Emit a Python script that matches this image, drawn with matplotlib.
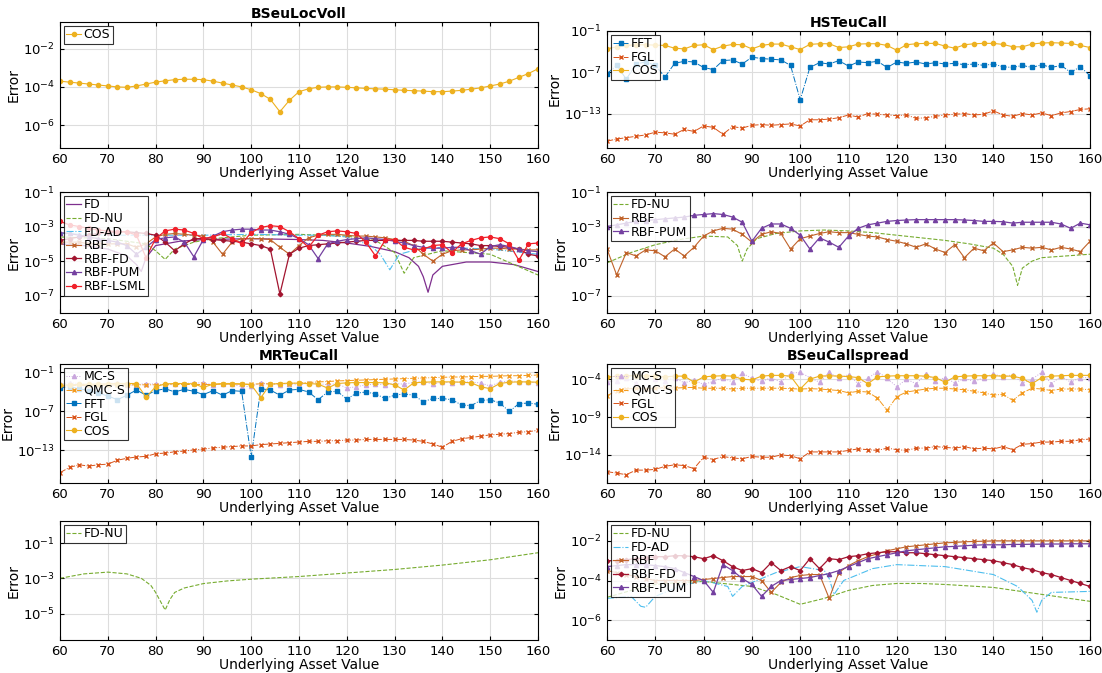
import numpy as np
import matplotlib
matplotlib.use("Agg")
import matplotlib.pyplot as plt
from matplotlib.ticker import FixedLocator, LogFormatterMathtext, NullLocator

X = np.arange(60, 161, 2)

# ---- data (log10 of error) ----
A_COS = [-3.70,-3.75,-3.8,-3.85,-3.9,-3.95,-4.0,-4.02,-3.95,-3.85,-3.75,-3.68,-3.62,-3.6,-3.6,-3.62,-3.7,-3.8,-3.9,-4.0,-4.15,-4.35,-4.65,-5.3,-4.7,-4.25,-4.1,-4.02,-4.0,-4.0,-4.02,-4.05,-4.08,-4.1,-4.12,-4.15,-4.18,-4.2,-4.22,-4.25,-4.25,-4.22,-4.18,-4.12,-4.05,-3.95,-3.85,-3.7,-3.5,-3.3,-3.05]

B_FFT = [-7.2,-6.0,-8.0,-5.8,-5.5,-6.0,-7.7,-5.7,-5.4,-5.5,-6.3,-6.6,-5.3,-5.2,-5.8,-4.8,-5.0,-5.1,-5.2,-6.0,-11.0,-6.3,-5.6,-5.8,-5.3,-6.1,-5.5,-5.6,-5.4,-6.3,-5.5,-5.7,-5.5,-5.8,-5.6,-5.8,-5.7,-5.9,-5.8,-6.0,-5.8,-6.2,-6.3,-6.0,-6.3,-5.9,-6.3,-6.0,-7.0,-6.2,-7.5]
B_FGL = [-17.0,-16.7,-16.5,-16.3,-16.1,-15.7,-15.8,-16.0,-15.3,-15.6,-14.8,-15.0,-16.0,-14.9,-15.1,-14.7,-14.6,-14.7,-14.6,-14.5,-14.8,-13.9,-13.9,-13.8,-13.6,-13.2,-13.5,-13.0,-13.1,-13.2,-13.3,-13.2,-13.7,-13.6,-13.4,-13.2,-13.1,-13.0,-13.2,-13.1,-12.6,-13.2,-13.4,-13.0,-13.2,-12.9,-13.3,-12.9,-12.7,-12.4,-12.3]
B_COS = [-3.6,-3.3,-3.1,-3.0,-3.0,-3.05,-3.1,-3.5,-3.6,-3.1,-3.0,-3.7,-3.2,-2.95,-3.0,-3.6,-3.1,-2.9,-2.9,-3.3,-3.7,-2.95,-2.85,-2.85,-3.4,-3.3,-2.9,-2.85,-2.85,-3.1,-3.8,-3.0,-2.85,-2.8,-2.8,-3.2,-3.5,-3.0,-2.85,-2.8,-2.8,-2.95,-3.3,-3.3,-2.9,-2.75,-2.7,-2.75,-2.8,-3.1,-3.4]

C_FD_x = [60,65,70,74,76,77,78,80,85,90,100,110,115,120,125,130,133,135,136,137,138,140,145,150,155,160]
C_FD = [-4.0,-4.1,-4.3,-4.7,-5.2,-5.6,-4.8,-4.1,-3.85,-3.75,-3.7,-3.75,-3.8,-3.95,-4.15,-4.45,-4.8,-5.3,-5.9,-6.8,-5.8,-5.3,-5.05,-5.05,-5.2,-5.6]
C_FDNU_x = [60,70,78,80,82,84,88,92,100,110,120,126,130,132,134,140,150,160]
C_FDNU = [-3.6,-3.7,-4.0,-4.4,-4.9,-4.3,-3.9,-3.7,-3.5,-3.45,-3.55,-3.8,-4.5,-5.7,-4.8,-4.4,-4.6,-5.8]
C_FDAD_x = [60,70,80,90,100,110,115,120,125,127,129,131,135,140,150,160]
C_FDAD = [-3.4,-3.5,-3.5,-3.5,-3.45,-3.5,-3.5,-3.6,-4.1,-4.6,-5.5,-4.6,-4.3,-4.2,-4.3,-4.6]
C_RBF = [-3.9,-3.9,-3.9,-4.0,-4.0,-4.0,-4.0,-4.0,-4.2,-4.0,-3.6,-3.45,-3.4,-3.45,-3.5,-3.55,-3.9,-4.6,-3.9,-3.7,-3.7,-3.7,-3.75,-4.2,-4.6,-4.1,-3.65,-3.5,-3.45,-3.45,-3.5,-3.55,-3.55,-3.6,-3.65,-3.75,-3.85,-4.1,-4.6,-5.0,-4.6,-4.4,-4.35,-4.35,-4.3,-4.25,-4.25,-4.3,-4.3,-4.35,-4.35]
C_RBFFD = [-3.8,-3.7,-3.6,-3.5,-3.4,-3.35,-3.3,-3.3,-3.35,-3.4,-3.5,-3.9,-4.4,-4.0,-3.7,-3.7,-3.75,-3.8,-3.85,-3.9,-4.0,-4.1,-4.3,-6.9,-4.6,-4.25,-4.1,-4.05,-4.0,-3.95,-3.9,-3.85,-3.8,-3.8,-3.8,-3.8,-3.8,-3.8,-3.85,-3.85,-3.85,-3.9,-3.95,-4.0,-4.1,-4.1,-4.15,-4.2,-4.3,-4.6,-4.7]
C_PUM = [-3.35,-3.4,-3.5,-3.6,-3.7,-3.8,-3.9,-4.1,-4.6,-4.2,-3.75,-3.65,-3.6,-3.9,-4.75,-3.75,-3.55,-3.3,-3.2,-3.15,-3.15,-3.2,-3.2,-3.3,-3.45,-3.7,-4.05,-4.85,-4.0,-3.85,-3.75,-3.7,-3.65,-3.7,-3.75,-3.85,-3.95,-4.1,-4.2,-4.25,-4.25,-4.2,-4.2,-4.4,-4.6,-4.15,-4.05,-4.15,-4.3,-4.4,-4.45]
C_LSML = [-2.7,-2.9,-3.0,-3.1,-3.2,-3.25,-3.3,-3.3,-3.5,-4.8,-3.7,-3.25,-3.15,-3.2,-3.4,-3.7,-3.6,-3.4,-3.7,-4.0,-3.35,-3.05,-2.95,-3.0,-3.3,-3.7,-4.2,-3.5,-3.3,-3.25,-3.3,-3.4,-3.9,-4.7,-3.8,-3.75,-4.2,-4.35,-4.3,-4.1,-4.05,-4.5,-4.0,-3.8,-3.65,-3.6,-3.7,-4.0,-4.95,-4.0,-3.95]

D_FDNU_x = [60,65,70,75,80,85,87,88,89,91,95,100,105,110,115,120,125,130,135,140,142,144,145,146,148,150,155,160]
D_FDNU = [-5.1,-4.5,-4.05,-3.75,-3.55,-3.6,-4.1,-5.0,-4.3,-3.7,-3.4,-3.25,-3.2,-3.25,-3.35,-3.5,-3.65,-3.8,-4.0,-4.25,-4.6,-5.3,-6.4,-5.4,-5.0,-4.8,-4.7,-4.6]
D_RBF = [-4.3,-5.8,-4.5,-4.7,-4.35,-4.4,-4.75,-4.3,-4.7,-4.2,-3.55,-3.25,-3.1,-3.15,-3.45,-3.9,-3.45,-3.3,-3.4,-4.3,-3.7,-3.55,-3.4,-3.3,-3.35,-3.35,-3.45,-3.55,-3.6,-3.75,-3.85,-4.0,-4.2,-4.0,-4.3,-4.5,-4.05,-4.8,-4.25,-4.4,-3.95,-4.45,-4.35,-4.2,-4.25,-4.2,-4.35,-4.2,-4.3,-4.45,-3.85]
D_PUM = [-3.0,-2.9,-2.8,-2.7,-2.65,-2.6,-2.55,-2.5,-2.45,-2.35,-2.3,-2.25,-2.3,-2.45,-2.75,-3.85,-3.1,-2.85,-2.85,-3.1,-3.5,-4.3,-3.65,-3.9,-4.2,-3.55,-3.1,-2.9,-2.8,-2.7,-2.65,-2.62,-2.6,-2.6,-2.6,-2.6,-2.6,-2.62,-2.65,-2.7,-2.7,-2.72,-2.8,-2.75,-2.75,-2.75,-2.75,-2.85,-3.1,-2.8,-2.9]

E_MCS = [-2.8,-2.6,-2.7,-2.9,-2.8,-2.7,-2.6,-3.0,-2.9,-2.7,-2.8,-2.9,-2.8,-2.7,-2.6,-2.6,-2.9,-2.7,-2.8,-3.2,-3.1,-2.6,-2.8,-2.9,-2.7,-3.0,-2.6,-2.7,-2.9,-2.7,-3.4,-3.2,-2.9,-2.8,-2.9,-2.7,-2.8,-2.5,-2.4,-2.8,-2.5,-2.6,-2.4,-2.5,-2.6,-3.1,-2.5,-2.3,-2.4,-2.5,-2.6]
E_QMCS = [-3.2,-3.0,-3.0,-3.0,-2.95,-2.95,-2.9,-2.9,-2.9,-2.9,-2.9,-2.9,-2.85,-2.85,-2.85,-2.85,-2.85,-2.8,-2.8,-2.8,-2.8,-2.75,-2.75,-2.7,-2.7,-2.6,-2.55,-2.45,-2.4,-2.3,-2.25,-2.2,-2.15,-2.1,-2.05,-2.0,-1.95,-1.9,-1.85,-1.8,-1.75,-1.7,-1.7,-1.65,-1.6,-1.6,-1.55,-1.5,-1.5,-1.45,-1.4]
E_FFT = [-3.4,-3.2,-3.5,-3.8,-4.2,-4.6,-5.2,-4.5,-3.7,-4.5,-3.8,-3.5,-4.0,-3.6,-3.9,-4.4,-3.8,-4.5,-3.8,-3.9,-14.0,-3.5,-3.7,-4.5,-3.7,-3.6,-4.0,-5.2,-4.0,-3.9,-5.1,-4.2,-4.0,-4.3,-5.0,-4.5,-4.3,-4.5,-5.5,-5.0,-5.0,-5.2,-6.0,-6.1,-5.3,-5.2,-5.7,-7.0,-5.8,-5.7,-5.9]
E_FGL = [-16.4,-15.6,-15.2,-15.4,-15.2,-15.1,-14.5,-14.2,-14.0,-13.9,-13.5,-13.4,-13.2,-13.1,-12.9,-12.8,-12.6,-12.5,-12.4,-12.3,-12.3,-12.1,-12.0,-11.9,-11.8,-11.7,-11.6,-11.6,-11.5,-11.5,-11.4,-11.4,-11.3,-11.3,-11.3,-11.3,-11.3,-11.4,-11.6,-12.0,-12.5,-11.6,-11.2,-11.0,-10.8,-10.6,-10.5,-10.4,-10.2,-10.1,-9.9]
E_COS = [-3.0,-2.9,-2.85,-2.8,-2.8,-2.75,-2.7,-2.7,-2.7,-4.8,-3.2,-2.75,-2.7,-2.7,-2.75,-3.3,-2.8,-2.7,-2.7,-2.75,-2.9,-4.9,-2.8,-2.7,-2.65,-2.65,-2.7,-2.8,-3.4,-2.7,-2.6,-2.55,-2.55,-2.55,-2.6,-2.9,-3.7,-2.6,-2.5,-2.45,-2.45,-2.45,-2.5,-2.6,-3.2,-3.5,-2.7,-2.5,-2.45,-2.45,-2.5]

F_MCS = [-4.4,-4.2,-3.9,-4.5,-3.7,-4.0,-4.2,-3.8,-4.5,-4.1,-4.7,-4.3,-3.8,-4.4,-3.2,-3.9,-4.3,-3.8,-4.4,-3.2,-3.1,-3.8,-4.4,-3.1,-3.9,-3.4,-4.6,-3.9,-3.0,-3.9,-5.0,-4.0,-4.6,-3.3,-4.2,-3.8,-4.5,-3.9,-4.3,-3.8,-3.3,-3.7,-3.4,-4.5,-4.0,-3.1,-4.6,-3.6,-4.4,-3.8,-3.8]
F_QMCS = [-6.2,-5.5,-5.3,-5.2,-5.3,-5.2,-5.1,-5.2,-5.1,-5.1,-5.2,-5.2,-5.2,-5.3,-5.2,-5.2,-5.2,-5.2,-5.2,-5.25,-5.3,-5.25,-5.3,-5.4,-5.5,-5.8,-5.6,-5.7,-6.5,-8.1,-6.3,-5.7,-5.5,-5.3,-5.2,-5.2,-5.3,-5.4,-5.6,-5.8,-6.1,-6.0,-6.8,-5.8,-5.2,-5.3,-5.5,-5.3,-5.3,-5.3,-5.4]
F_FGL = [-16.2,-16.4,-16.6,-16.0,-16.0,-15.9,-15.5,-15.3,-15.4,-15.8,-14.3,-14.6,-14.2,-14.4,-14.5,-14.2,-14.3,-14.3,-14.0,-14.1,-14.5,-13.6,-13.6,-13.6,-13.6,-13.4,-13.2,-13.3,-13.4,-13.1,-13.3,-13.4,-13.1,-13.1,-12.9,-13.0,-13.1,-12.9,-13.2,-13.1,-13.2,-12.9,-13.3,-12.6,-12.5,-12.3,-12.3,-12.2,-12.2,-12.0,-11.9]
F_COS = [-3.75,-3.6,-3.55,-3.55,-3.55,-3.6,-3.7,-3.6,-3.6,-4.4,-3.7,-3.6,-3.55,-3.6,-4.0,-4.1,-3.6,-3.5,-3.5,-3.6,-5.3,-4.0,-3.6,-3.55,-3.6,-3.65,-3.8,-4.6,-3.7,-3.6,-3.55,-3.55,-3.55,-3.6,-3.8,-4.4,-3.7,-3.6,-3.55,-3.55,-3.55,-3.6,-3.6,-3.9,-4.6,-3.8,-3.6,-3.55,-3.5,-3.5,-3.5]

G_FDNU_x = [60,65,70,74,77,79,80,81,82,83,84,86,90,95,100,110,120,130,140,150,160]
G_FDNU = [-3.0,-2.75,-2.65,-2.75,-3.0,-3.4,-3.8,-4.3,-4.8,-4.2,-3.8,-3.55,-3.3,-3.15,-3.05,-2.9,-2.7,-2.5,-2.25,-1.95,-1.55]

H_FDNU_x = [60,65,70,75,80,90,95,100,105,110,115,120,125,130,140,150,160]
H_FDNU = [-4.85,-4.5,-4.2,-4.1,-4.05,-4.3,-4.7,-5.2,-4.9,-4.5,-4.25,-4.15,-4.15,-4.2,-4.35,-4.7,-5.05]
H_FDAD_x = [60,65,67,68,70,75,80,85,86,88,95,100,105,106,107,109,115,120,130,140,145,148,149,150,152,160]
H_FDAD = [-4.9,-4.8,-5.3,-5.35,-4.8,-4.3,-4.0,-4.3,-4.8,-4.3,-3.6,-3.3,-3.5,-3.9,-4.7,-4.0,-3.4,-3.2,-3.3,-3.7,-4.3,-5.0,-5.6,-5.0,-4.6,-4.55]
H_RBF = [-3.5,-3.6,-3.7,-3.8,-3.9,-4.0,-4.0,-4.0,-4.0,-4.0,-3.95,-3.9,-3.85,-3.8,-3.8,-3.8,-4.0,-4.6,-4.1,-3.85,-3.75,-3.7,-3.7,-4.9,-3.6,-3.25,-3.0,-2.8,-2.65,-2.5,-2.4,-2.3,-2.25,-2.2,-2.15,-2.1,-2.08,-2.05,-2.03,-2.02,-2.0,-2.0,-2.0,-2.0,-2.0,-2.0,-2.0,-2.0,-2.0,-2.0,-2.0]
H_RBFFD = [-3.0,-3.0,-2.95,-2.9,-2.85,-2.8,-2.8,-2.75,-2.75,-2.8,-2.9,-2.75,-3.0,-3.3,-3.5,-3.4,-3.6,-3.1,-3.5,-3.3,-3.5,-2.9,-3.4,-2.9,-2.95,-2.8,-2.75,-2.65,-2.6,-2.55,-2.55,-2.6,-2.6,-2.65,-2.7,-2.75,-2.8,-2.85,-2.9,-2.95,-3.0,-3.1,-3.2,-3.35,-3.45,-3.6,-3.7,-3.85,-4.0,-4.15,-4.3]
H_PUM = [-3.3,-3.25,-3.2,-3.2,-3.2,-3.25,-3.3,-3.4,-3.6,-3.8,-4.0,-4.6,-3.2,-3.5,-3.9,-4.2,-4.8,-4.3,-4.0,-3.95,-3.9,-3.85,-3.75,-3.65,-3.5,-3.3,-3.1,-2.9,-2.8,-2.7,-2.6,-2.5,-2.45,-2.4,-2.35,-2.3,-2.28,-2.25,-2.22,-2.2,-2.2,-2.2,-2.18,-2.18,-2.17,-2.17,-2.16,-2.16,-2.15,-2.15,-2.15]

# ---- styles ----
C_COS, C_FFT, C_FGL = '#EDB120', '#0072BD', '#D95319'
C_MC, C_QMC = '#C9A6DD', '#F39A1E'
C_FDc, C_NU, C_AD = '#7E2F8E', '#77AC30', '#4DBEEE'
C_RBFc, C_RFD, C_PUMc, C_LS = '#C0632B', '#A2142F', '#7440A0', '#F0202A'

STY = {
 'COS': dict(color=C_COS, marker='o', ms=3, lw=0.8, ls='-'),
 'FFT': dict(color=C_FFT, marker='s', ms=2.5, lw=0.7, ls='-.'),
 'FGL': dict(color=C_FGL, marker='x', ms=3, lw=0.7, ls='-.'),
 'MC-S': dict(color=C_MC, marker='^', ms=3, lw=0.7, ls=':'),
 'QMC-S': dict(color=C_QMC, marker='x', ms=3, lw=0.7, ls='-.'),
 'FD': dict(color=C_FDc, lw=0.9, ls='-'),
 'FD-NU': dict(color=C_NU, lw=0.8, ls='--'),
 'FD-AD': dict(color=C_AD, lw=0.8, ls='-.'),
 'RBF': dict(color=C_RBFc, marker='x', ms=3, lw=0.8, ls='-'),
 'RBF-FD': dict(color=C_RFD, marker='D', ms=2.3, lw=0.9, ls='-'),
 'RBF-PUM': dict(color=C_PUMc, marker='^', ms=3, lw=0.9, ls='-'),
 'RBF-LSML': dict(color=C_LS, marker='o', ms=2.8, lw=0.9, ls='-'),
}

fig = plt.figure(figsize=(11.02, 6.73), dpi=100)
W, H = 1102, 673
def ax_at(x0, y0, x1, y1):
    return fig.add_axes([x0 / W, 1 - y1 / H, (x1 - x0) / W, (y1 - y0) / H])

def setup(ax, ylim, ticks, title=None):
    ax.set_yscale('log')
    ax.set_xlim(60, 160)
    ax.set_ylim(10.0 ** ylim[0], 10.0 ** ylim[1])
    ax.yaxis.set_major_locator(FixedLocator([10.0 ** t for t in ticks]))
    ax.yaxis.set_major_formatter(LogFormatterMathtext())
    ax.yaxis.set_minor_locator(NullLocator())
    ax.set_xticks(np.arange(60, 161, 10))
    ax.grid(True, color='#DDDDDD', lw=0.8)
    ax.set_axisbelow(True)
    ax.tick_params(labelsize=9.5, direction='in', length=3, top=True, right=True)
    for s in ax.spines.values():
        s.set_linewidth(0.8)
    ax.set_xlabel('Underlying Asset Value', fontsize=10, labelpad=0)
    ax.set_ylabel('Error', fontsize=10, labelpad=2)
    if title:
        ax.set_title(title, fontsize=10, fontweight='bold', pad=3)

def plot(ax, name, y, x=None):
    xs = X if x is None else x
    ax.plot(xs, 10.0 ** np.array(y), label=name, **STY[name])

def legend(ax):
    lg = ax.legend(loc='upper left', fontsize=9, frameon=True, fancybox=False,
                   edgecolor='black', borderpad=0.2, labelspacing=0.05,
                   handlelength=1.2, handletextpad=0.2, borderaxespad=0.3)
    lg.get_frame().set_linewidth(0.8)

L0, L1, R0, R1 = 60, 538, 607, 1090

ax = ax_at(L0, 22, L1, 148)
setup(ax, (-7.2, -0.6), [-6, -4, -2], 'BSeuLocVoll')
plot(ax, 'COS', A_COS); legend(ax)

ax = ax_at(R0, 31, R1, 148)
setup(ax, (-18, -1), [-13, -7, -1], 'HSTeuCall')
plot(ax, 'FFT', B_FFT); plot(ax, 'FGL', B_FGL); plot(ax, 'COS', B_COS); legend(ax)

ax = ax_at(L0, 192, L1, 313)
setup(ax, (-8, -1), [-7, -5, -3, -1])
plot(ax, 'FD', C_FD, C_FD_x); plot(ax, 'FD-NU', C_FDNU, C_FDNU_x); plot(ax, 'FD-AD', C_FDAD, C_FDAD_x)
plot(ax, 'RBF', C_RBF); plot(ax, 'RBF-FD', C_RBFFD); plot(ax, 'RBF-PUM', C_PUM); plot(ax, 'RBF-LSML', C_LSML)
legend(ax)

ax = ax_at(R0, 192, R1, 313)
setup(ax, (-8, -1), [-7, -5, -3, -1])
plot(ax, 'FD-NU', D_FDNU, D_FDNU_x); plot(ax, 'RBF', D_RBF); plot(ax, 'RBF-PUM', D_PUM); legend(ax)

ax = ax_at(L0, 364, L1, 483)
setup(ax, (-18, 0.3), [-13, -7, -1], 'MRTeuCall')
plot(ax, 'MC-S', E_MCS); plot(ax, 'QMC-S', E_QMCS); plot(ax, 'FFT', E_FFT); plot(ax, 'FGL', E_FGL); plot(ax, 'COS', E_COS)
legend(ax)

ax = ax_at(R0, 364, R1, 483)
setup(ax, (-17.7, -2), [-14, -9, -4], 'BSeuCallspread')
plot(ax, 'MC-S', F_MCS); plot(ax, 'QMC-S', F_QMCS); plot(ax, 'FGL', F_FGL); plot(ax, 'COS', F_COS)
legend(ax)

ax = ax_at(L0, 521, L1, 640)
setup(ax, (-6.5, 0.25), [-5, -3, -1])
plot(ax, 'FD-NU', G_FDNU, G_FDNU_x); legend(ax)

ax = ax_at(R0, 521, R1, 640)
setup(ax, (-7, -1), [-6, -4, -2])
plot(ax, 'FD-NU', H_FDNU, H_FDNU_x); plot(ax, 'FD-AD', H_FDAD, H_FDAD_x)
plot(ax, 'RBF', H_RBF); plot(ax, 'RBF-FD', H_RBFFD); plot(ax, 'RBF-PUM', H_PUM)
legend(ax)

fig.savefig('out.png', dpi=100)
